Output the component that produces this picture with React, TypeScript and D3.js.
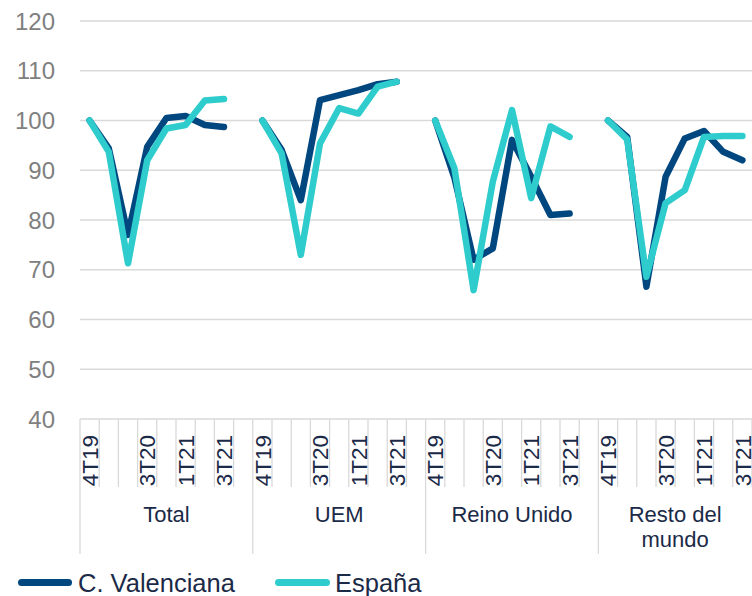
import React from "react";
import * as d3 from "d3";

const groups = ["Total", "UEM", "Reino Unido", "Resto del mundo"];
const groupLabelLines = [["Total"], ["UEM"], ["Reino Unido"], ["Resto del", "mundo"]];
const quarters = ["4T19", "1T20", "2T20", "3T20", "4T20", "1T21", "2T21", "3T21", ""];
const shownTicks = ["4T19", "3T20", "1T21", "3T21"];
const yTicks = [40, 50, 60, 70, 80, 90, 100, 110, 120];

const valenciaTotal = [100, 94.4, 77, 94.7, 100.5, 100.9, 99.1, 98.7];
const valenciaUEM = [100, 94.1, 84, 104.1, 105.1, 106.1, 107.3, 107.8];
const valenciaRU = [100, 88.5, 72, 74.3, 96.1, 88.7, 81, 81.3];
const valenciaResto = [100, 96.7, 66.6, 88.7, 96.4, 97.9, 93.7, 92];

const espanaTotal = [100, 93.7, 71.3, 92, 98.4, 99.1, 104, 104.3];
const espanaUEM = [100, 93.4, 73, 95.4, 102.5, 101.4, 106.8, 107.8];
const espanaRU = [100, 90.4, 65.9, 87.7, 102.1, 84.4, 98.8, 96.7];
const espanaResto = [100, 96.2, 68.6, 83.4, 86, 96.7, 96.9, 96.9];

const seriesNames = ["C. Valenciana", "España"];
const seriesColors = ["#00467f", "#2ecccc"];
const seriesData = [
  [valenciaTotal, valenciaUEM, valenciaRU, valenciaResto],
  [espanaTotal, espanaUEM, espanaRU, espanaResto],
];

const W = 752;
const H = 596;
const left = 80;
const band = 19.2;
const yTop = 21;
const yBottom = 419;

export default function App() {
  const keys: string[] = [];
  groups.forEach((g, gi) => quarters.forEach((q, qi) => keys.push(`${gi}-${qi}`)));
  const x = d3.scaleBand<string>().domain(keys).range([left, left + keys.length * band]).padding(0);
  const y = d3.scaleLinear().domain([40, 120]).range([yBottom, yTop]);
  const line = d3.line<[number, number]>().x((d) => d[0]).y((d) => d[1]);
  const navy = "#1b2a47";
  const grid = "#d9d9d9";
  const font = "'Liberation Sans', Arial, sans-serif";

  return (
    <svg width={W} height={H} style={{ position: "absolute", left: 0, top: 0 }} fontFamily={font}>
      <rect width={W} height={H} fill="#fff" />
      {yTicks.map((t) => (
        <g key={t}>
          <line x1={left} x2={W} y1={y(t)} y2={y(t)} stroke={grid} strokeWidth={1.5} />
          <text x={55} y={y(t)} dy="0.36em" textAnchor="end" fontSize={24} fill="#808080">
            {t}
          </text>
        </g>
      ))}
      {keys.map((k, i) => {
        const x0 = x(k)!;
        const isGroupStart = i % quarters.length === 0;
        return (
          <line key={k} x1={x0} x2={x0} y1={yBottom} y2={isGroupStart ? 554 : 487} stroke={grid} strokeWidth={1.3} />
        );
      })}
      <line x1={left + keys.length * band} x2={left + keys.length * band} y1={yBottom} y2={554} stroke={grid} strokeWidth={1.3} />
      {keys.map((k) => {
        const qi = +k.split("-")[1];
        const q = quarters[qi];
        if (!shownTicks.includes(q)) return null;
        const cx = x(k)! + x.bandwidth() / 2;
        return (
          <text key={"t" + k} transform={`translate(${cx},435) rotate(-90)`} dy="0.36em" textAnchor="end" fontSize={22.5} fill={navy}>
            {q}
          </text>
        );
      })}
      {groups.map((g, gi) => {
        const gx0 = x(`${gi}-0`)!;
        const gx1 = Math.min(gx0 + quarters.length * band, W);
        const cx = (gx0 + gx1) / 2;
        return groupLabelLines[gi].map((ln, li) => (
          <text key={g + li} x={cx} y={522 + li * 25} textAnchor="middle" fontSize={22} fill={navy}>
            {ln}
          </text>
        ));
      })}
      {seriesData.map((ser, si) =>
        ser.map((vals, gi) => {
          const pts: [number, number][] = vals.map((v, qi) => [x(`${gi}-${qi}`)! + x.bandwidth() / 2, y(v)]);
          return (
            <path key={`${si}-${gi}`} d={line(pts)!} fill="none" stroke={seriesColors[si]} strokeWidth={6.5} strokeLinejoin="round" strokeLinecap="round" />
          );
        })
      )}
      <line x1={21.5} x2={68.5} y1={582.5} y2={582.5} stroke={seriesColors[0]} strokeWidth={7} strokeLinecap="round" />
      <text x={78} y={592} fontSize={25.5} fill={navy}>{seriesNames[0]}</text>
      <line x1={278.5} x2={326.5} y1={582.5} y2={582.5} stroke={seriesColors[1]} strokeWidth={7} strokeLinecap="round" />
      <text x={335} y={592} fontSize={25.5} fill={navy}>{seriesNames[1]}</text>
    </svg>
  );
}
